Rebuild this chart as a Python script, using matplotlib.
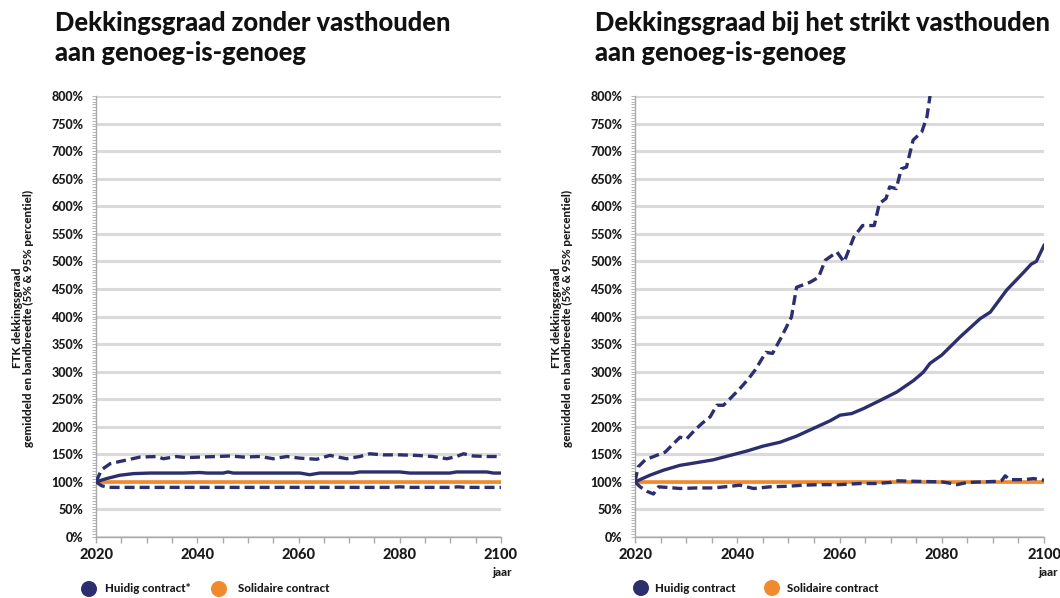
import matplotlib
matplotlib.use("Agg")
import matplotlib.pyplot as plt
from matplotlib.patches import Ellipse
from matplotlib.ticker import MultipleLocator, FuncFormatter

# ---------------- data ----------------
titles = ["Dekkingsgraad zonder vasthouden\naan genoeg-is-genoeg",
          "Dekkingsgraad bij het strikt vasthouden\naan genoeg-is-genoeg"]
ylabel = "FTK dekkingsgraad\ngemiddeld en bandbreedte (5% & 95% percentiel)"
legend_left = ["Huidig contract*", "Solidaire contract"]
legend_right = ["Huidig contract", "Solidaire contract"]

# Left panel
l_mean_x = [2020, 2022.1, 2024.7, 2027.4, 2030.7, 2037.2, 2040.5, 2041.9, 2045.1, 2046.1, 2047.1,
            2060.3, 2062.2, 2064.2, 2070.8, 2072.1, 2080, 2082, 2089.9, 2091.2, 2097.2, 2098.5, 2100]
l_mean_y = [100, 106, 112, 115, 116, 116, 117, 116, 116, 118, 116,
            116, 113, 116, 116, 118, 118, 116, 116, 118, 118, 116, 116]
l_p95_x = [2020, 2021.1, 2022.8, 2024.7, 2026.7, 2028.7, 2032, 2033.3, 2035.9, 2037.9, 2040.5,
           2043.8, 2046.5, 2049.1, 2052.4, 2055, 2057.7, 2060.3, 2063.6, 2066.2, 2069.5, 2072.1,
           2074.1, 2076.7, 2080, 2083.3, 2086.6, 2089.3, 2091.2, 2092.6, 2094.5, 2097.2, 2100]
l_p95_y = [100, 122, 133, 137, 141, 145, 146, 142, 146, 144, 145,
           146, 147, 145, 146, 142, 146, 143, 141, 148, 142, 146,
           151, 149, 149, 148, 146, 142, 146, 151, 147, 146, 146]
l_p5_x = [2020, 2021.1, 2022.5, 2030, 2040, 2050, 2060, 2070, 2078, 2080, 2082, 2090, 2091.5, 2093, 2100]
l_p5_y = [100, 93, 90, 90, 90, 90, 90, 90, 90, 91, 90, 90, 91, 90, 90]
l_sol_x = [2020, 2100]
l_sol_y = [100, 100]

# Right panel
r_mean_x = [2020, 2022.9, 2025.5, 2028.8, 2032.1, 2035.3, 2038.6, 2041.9, 2045.1, 2048.4, 2051.6,
            2054.9, 2058.2, 2060.1, 2062.4, 2064.7, 2068.0, 2071.2, 2074.5, 2076.4, 2077.7, 2080.0,
            2083.6, 2087.5, 2089.5, 2092.7, 2096.0, 2097.5, 2098.5, 2100]
r_mean_y = [100, 112, 121, 130, 135, 140, 148, 156, 165, 172, 183,
            197, 211, 221, 224, 233, 248, 263, 284, 299, 315, 330,
            363, 396, 408, 448, 480, 495, 500, 529]
r_p95_x = [2020, 2020.6, 2022.0, 2024.2, 2025.9, 2027.5, 2028.8, 2030.1, 2031.7, 2033.1, 2034.7,
           2036.0, 2037.3, 2038.6, 2040.5, 2042.2, 2043.5, 2045.6, 2046.9, 2048.6, 2050.6, 2051.6,
           2054.2, 2055.9, 2057.2, 2059.5, 2060.9, 2062.8, 2064.5, 2066.8, 2067.8, 2069.1, 2069.8,
           2071.1, 2072.1, 2073.1, 2074.4, 2076.1, 2077.1, 2077.7, 2078.3]
r_p95_y = [100, 127, 140, 148, 154, 169, 181, 178, 194, 206, 218,
           239, 239, 251, 269, 287, 303, 335, 333, 362, 399, 453,
           462, 471, 502, 517, 499, 544, 565, 565, 605, 614, 635,
           632, 668, 671, 720, 735, 762, 800, 840]
r_p5_x = [2020, 2021.0, 2022.3, 2023.6, 2024.6, 2026.2, 2028.8, 2032.1, 2035.3, 2038.6, 2040.5, 2043.2,
          2046.4, 2049.7, 2052.9, 2056.2, 2060.1, 2064, 2067, 2070, 2071, 2075, 2080, 2082, 2083,
          2085, 2088, 2091, 2091.8, 2092.4, 2093.3, 2096, 2098, 2100]
r_p5_y = [100, 91, 83, 78, 91, 90, 88, 89, 89, 92, 94, 88,
          91, 92, 94, 95, 95, 97, 97, 99, 102, 101, 100, 97, 95,
          99, 100, 101, 103, 111, 104, 104, 106, 103]
r_sol_x = [2020, 2100]
r_sol_y = [100, 100]

# ---------------- style ----------------
NAVY = "#2d2e6d"
ORANGE = "#f08a2c"
GRID = "#dadada"
AXC = "#aaaaaa"
FONT = ["Lato", "DejaVu Sans"]
plt.rcParams["font.family"] = FONT

W, H = 1060, 598
fig = plt.figure(figsize=(W / 100, H / 100), dpi=100)
fig.patch.set_facecolor("white")


def px_axes(x0, x1, y0, y1):
    return fig.add_axes([x0 / W, 1 - y1 / H, (x1 - x0) / W, (y1 - y0) / H])


def style_axes(ax):
    ax.set_xlim(2020, 2100)
    ax.set_ylim(0, 800)
    ax.yaxis.set_major_locator(MultipleLocator(50))
    ax.yaxis.set_minor_locator(MultipleLocator(5))
    ax.xaxis.set_major_locator(MultipleLocator(20))
    ax.xaxis.set_minor_locator(MultipleLocator(5))
    ax.yaxis.set_major_formatter(FuncFormatter(lambda v, p: f"{int(v)}%"))
    ax.xaxis.set_major_formatter(FuncFormatter(lambda v, p: f"{int(v)}"))
    for s in ["top", "right"]:
        ax.spines[s].set_visible(False)
    for s in ["left", "bottom"]:
        ax.spines[s].set_color(AXC)
        ax.spines[s].set_linewidth(1.0)
    ax.grid(axis="y", which="major", color=GRID, linewidth=2.2)
    ax.set_axisbelow(True)
    ax.tick_params(axis="y", which="both", direction="out", color=AXC, length=3, width=0.6,
                   labelsize=9, pad=6)
    ax.tick_params(axis="x", which="both", direction="out", color=AXC, length=4, width=1,
                   labelsize=10.5, pad=4)
    for lab in ax.get_yticklabels() + ax.get_xticklabels():
        lab.set_fontweight("black")
        lab.set_color("#1a1a1a")


def draw(ax, mx, my, ux, uy, lx, ly, sx, sy):
    ax.plot(sx, sy, color=ORANGE, linewidth=2.6, solid_capstyle="butt", zorder=3)
    ax.plot(mx, my, color=NAVY, linewidth=2.4, zorder=4)
    ax.plot(ux, uy, color=NAVY, linewidth=2.4, linestyle=(0, (3.0, 1.5)), zorder=4)
    ax.plot(lx, ly, color=NAVY, linewidth=2.4, linestyle=(0, (3.0, 1.5)), zorder=4)


axL = px_axes(96, 501, 96, 537)
axR = px_axes(635, 1044, 96, 537)
for ax in (axL, axR):
    style_axes(ax)

draw(axL, l_mean_x, l_mean_y, l_p95_x, l_p95_y, l_p5_x, l_p5_y, l_sol_x, l_sol_y)
draw(axR, r_mean_x, r_mean_y, r_p95_x, r_p95_y, r_p5_x, r_p5_y, r_sol_x, r_sol_y)

# titles
fig.text(55 / W, 1 - 11 / H, titles[0], ha="left", va="top", fontsize=18.4,
         fontweight="black", color="#111111", linespacing=1.3)
fig.text(595 / W, 1 - 11 / H, titles[1], ha="left", va="top", fontsize=18.4,
         fontweight="black", color="#111111", linespacing=1.3)

# y labels
fig.text(23 / W, 1 - 318 / H, ylabel, rotation=90, ha="center", va="center",
         fontsize=8.4, fontweight="black", color="#1a1a1a", linespacing=1.1)
fig.text(562 / W, 1 - 318 / H, ylabel, rotation=90, ha="center", va="center",
         fontsize=8.4, fontweight="black", color="#1a1a1a", linespacing=1.1)

# x axis "jaar"
fig.text(512 / W, 1 - 572 / H, "jaar", ha="right", va="center", fontsize=8.5,
         fontweight="black", color="#1a1a1a")
fig.text(1058 / W, 1 - 572 / H, "jaar", ha="right", va="center", fontsize=8.5,
         fontweight="black", color="#1a1a1a")

# legends: circles drawn in a pixel-coordinate overlay axes
ov = fig.add_axes([0, 0, 1, 1], facecolor="none")
ov.set_xlim(0, W)
ov.set_ylim(H, 0)
ov.axis("off")


def legend(items, xs_circle, xs_text, y):
    for (lab, col), xc, xt in zip(items, xs_circle, xs_text):
        ov.add_patch(Ellipse((xc, y), 16, 16, color=col, lw=0))
        ov.text(xt, y, lab, ha="left", va="center", fontsize=8.3,
                fontweight="black", color="#1a1a1a")

legend([(legend_left[0], NAVY), (legend_left[1], ORANGE)], [89, 219], [105, 238], 589)
legend([(legend_right[0], NAVY), (legend_right[1], ORANGE)], [641, 772], [655, 787], 588)

fig.savefig("out.png", dpi=100, facecolor="white")
